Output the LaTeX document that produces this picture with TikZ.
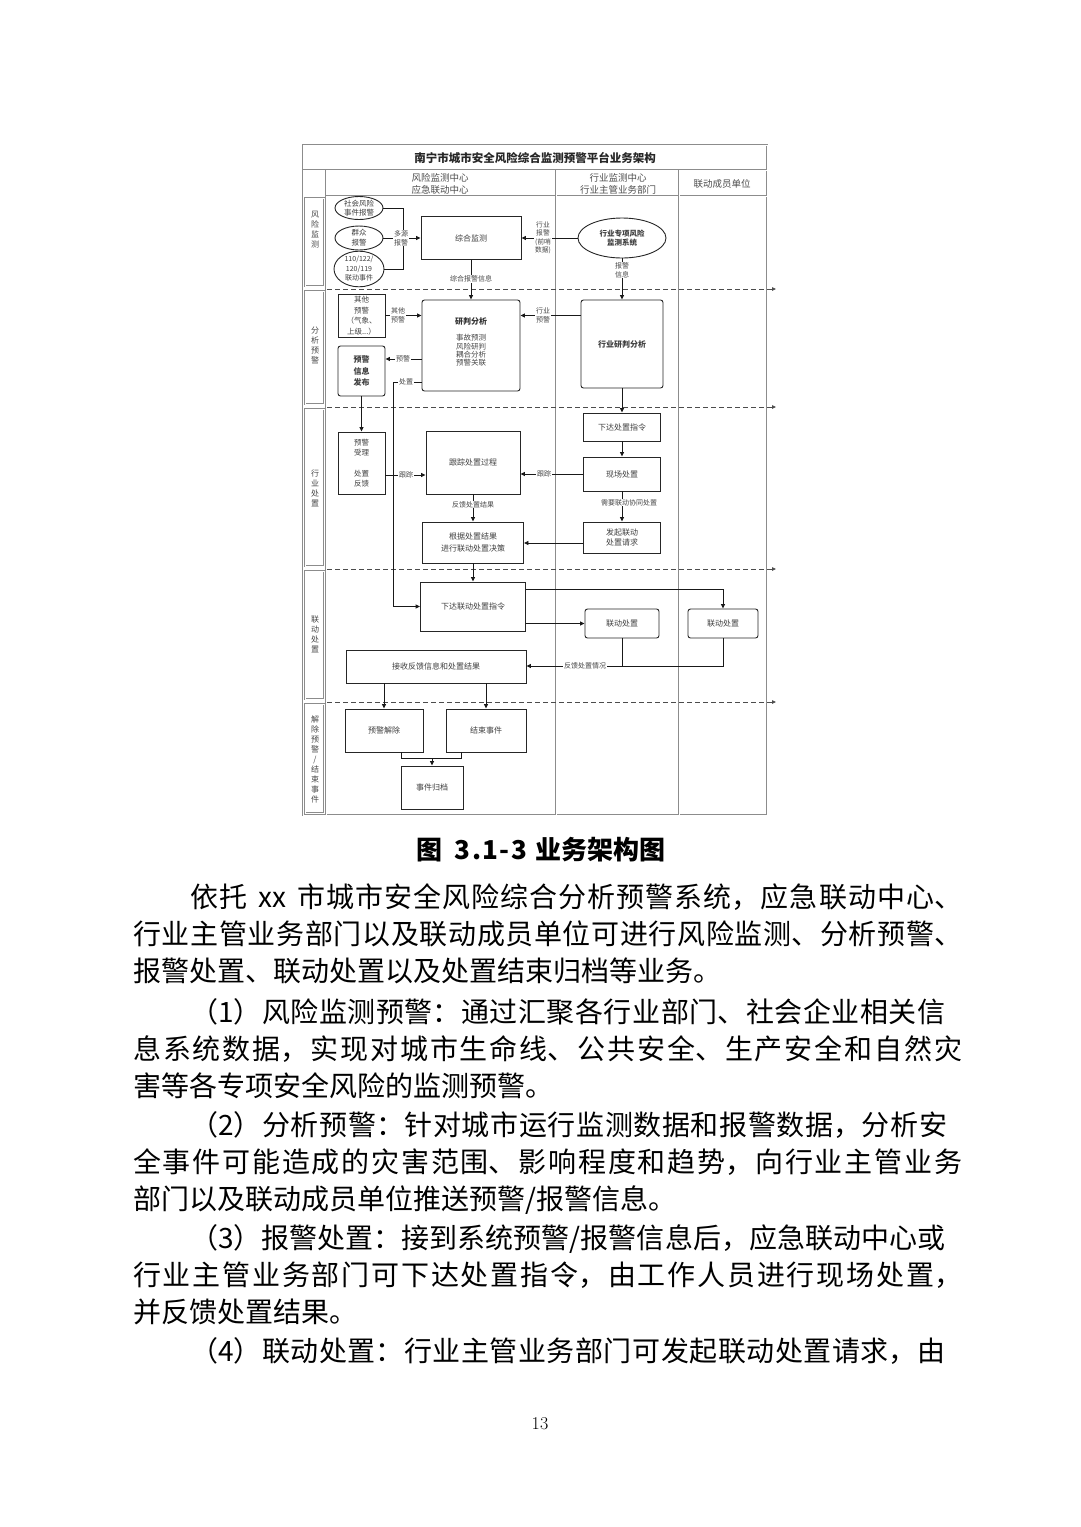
\documentclass[tikz,border=0pt]{standalone}
\usepackage{fontspec}
\newfontfamily\cjk{Noto Sans CJK SC}
\usetikzlibrary{arrows.meta,shapes.geometric}
\XeTeXlinebreaklocale "zh"
\XeTeXlinebreakskip=0pt plus 3pt
\newcommand\dfs[2]{\cjk\fontsize{#1}{#2}\selectfont}
\newcommand\dfb[2]{\cjk\bfseries\fontsize{#1}{#2}\selectfont}
\newcommand\bodyf{\cjk\fontsize{28}{36}\selectfont}
\begin{document}
\begin{tikzpicture}[x=1pt,y=-1pt,
  box/.style={draw=black!85, line width=0.9pt, fill=white, align=center, text=black!75, inner sep=1pt, font=\dfs{8}{10}},
  rbox/.style={box, rounded corners=2.5pt},
  ell/.style={box, ellipse, inner sep=0pt},
  lbl/.style={font=\dfs{7}{8.6}, text=black!72, align=center, fill=white, inner sep=0.6pt},
  arr/.style={draw=black!90, line width=0.9pt, -{Triangle[length=4.5pt,width=4pt]}},
  ln/.style={draw=black!90, line width=0.9pt},
  lane/.style={draw=black!45, line width=0.45pt, double=white, double distance=0.9pt},
  sepl/.style={draw=black!70, line width=0.8pt, dash pattern=on 5pt off 3pt, -{Triangle[length=4pt,width=3.5pt]}},
  rowl/.style={font=\dfs{8}{10}, text=black!72, align=center, inner sep=0pt},
  para/.style={anchor=base west, inner sep=0pt},
  jpara/.style={anchor=base west, inner sep=0pt, text width=#1, align=justify, font=\bodyf}
]
\fill[white] (0,0) rectangle (1080,1527);
\useasboundingbox (0,0) rectangle (1080,1527);

% ---------- frame ----------
\draw[lane] (303,145) rectangle (767,815);
\draw[lane] (303,170) -- (767,170);
\draw[lane] (326,170) -- (326,815);
\draw[lane] (326,196) -- (767,196);
\draw[lane] (556,170) -- (556,815);
\draw[lane] (679,170) -- (679,815);
\draw[lane] (305,198) rectangle (324,286);
\draw[lane] (305,291) rectangle (324,404);
\draw[lane] (305,409) rectangle (324,566);
\draw[lane] (305,571) rectangle (324,699);
\draw[lane] (305,704) rectangle (324,813);
\foreach \yy in {289,407,569,702} \draw[sepl] (327,\yy) -- (776,\yy);

\node[font=\dfb{11.5}{13}, text=black!85] (title) at (535,158) {南宁市城市安全风险综合监测预警平台业务架构};
\node[font=\dfs{9.5}{12}, text=black!70, align=center] (h1) at (440,184) {风险监测中心\\应急联动中心};
\node[font=\dfs{9.5}{12}, text=black!70, align=center] (h2) at (618,184) {行业监测中心\\行业主管业务部门};
\node[font=\dfs{9.5}{12}, text=black!70] (h3) at (722,184) {联动成员单位};

\node[rowl] (r1) at (315,230) {风\\险\\监\\测};
\node[rowl] (r2) at (315,346) {分\\析\\预\\警};
\node[rowl] (r3) at (315,488) {行\\业\\处\\置};
\node[rowl] (r4) at (315,634) {联\\动\\处\\置};
\node[rowl] (r5) at (315,759) {解\\除\\预\\警\\/\\结\\束\\事\\件};

% ---------- nodes ----------
\node[ell, minimum width=48, minimum height=23, font=\dfs{7.5}{8.6}] (eA) at (359,208) {社会风险\\事件报警};
\node[ell, minimum width=48, minimum height=21, font=\dfs{7.5}{10}] (eB) at (359,238) {群众\\报警};
\node[ell, minimum width=50, minimum height=35, font=\dfs{7}{9.5}] (eC) at (359,269) {110/122/\\120/119\\联动事件};
\node[box, minimum width=100, minimum height=43] (zh) at (471,238) {综合监测};
\node[ell, minimum width=88, minimum height=40, font=\dfb{7.5}{9.5}] (eD) at (622,238) {行业专项风险\\监测系统};

\node[box, minimum width=47, minimum height=43, font=\dfs{7.5}{10.5}] (qt) at (361.5,315.5) {其他\\预警\\（气象、\\上级...）};
\node[rbox, minimum width=98, minimum height=91] (yp) at (471,345.5) {};
\node[font=\dfb{8}{10}, text=black!80] (yp1) at (471,321) {研判分析};
\node[font=\dfs{7.5}{8.4}, text=black!72, align=center] (yp2) at (471,350.5) {事故预测\\风险研判\\耦合分析\\预警关联};
\node[rbox, minimum width=47, minimum height=50, font=\dfb{8}{11.5}] (fb) at (361.5,371) {预警\\信息\\发布};
\node[rbox, minimum width=82, minimum height=88, font=\dfb{8}{10}] (hy) at (622,344) {行业研判分析};

\node[box, minimum width=47, minimum height=62, font=\dfs{7.5}{10}] (sl) at (361.5,463) {预警\\受理\\[11pt]处置\\反馈};
\node[box, minimum width=94, minimum height=63] (gz) at (473,462.5) {跟踪处置过程};
\node[box, minimum width=101, minimum height=41, font=\dfs{8}{12.5}] (gj) at (473,542.5) {根据处置结果\\进行联动处置决策};
\node[box, minimum width=77, minimum height=28] (xd) at (622,427) {下达处置指令};
\node[box, minimum width=77, minimum height=34] (xc) at (622,474) {现场处置};
\node[box, minimum width=77, minimum height=31, font=\dfs{8}{10}] (fq) at (622,537.5) {发起联动\\处置请求};

\node[box, minimum width=105, minimum height=49] (xl) at (473,606.5) {下达联动处置指令};
\node[rbox, minimum width=74, minimum height=29] (ld1) at (622,623.5) {联动处置};
\node[rbox, minimum width=70, minimum height=29] (ld2) at (723,623.5) {联动处置};
\node[box, minimum width=180, minimum height=33] (js) at (436,666.5) {接收反馈信息和处置结果};

\node[box, minimum width=78, minimum height=43] (yj) at (384,730.5) {预警解除};
\node[box, minimum width=80, minimum height=43] (jsj) at (486,730.5) {结束事件};
\node[box, minimum width=62, minimum height=43] (gd) at (432,787.5) {事件归档};

% ---------- helper coordinates ----------
\coordinate (jx) at (403,238);
\coordinate (y316) at (0,315.5);
\coordinate (y359) at (0,359);
\coordinate (cz1) at (393,382);
\coordinate (y475) at (0,475);
\coordinate (y543) at (0,543);
\coordinate (t589) at (723,589);
\coordinate (f666) at (723,666);
\coordinate (m1) at (401,758);
\coordinate (m2) at (461,758);
\coordinate (m0) at (432,758);

% ---------- connectors ----------
\draw[ln] (eA.east) -| (jx);
\draw[ln] (eC.east) -| (jx);
\draw[arr] (eB.east) -- (zh.west);
\draw[arr] (eD.west) -- (zh.east);
\draw[arr] (zh.south) -- (yp.north);
\draw[arr] (eD.south) -- (hy.north);

\draw[arr] (qt.east |- y316) -- (yp.west |- y316);
\draw[arr] (hy.west |- y316) -- (yp.east |- y316);
\draw[arr] (yp.west |- y359) -- (fb.east |- y359);
\draw[arr] (yp.west |- cz1) -- (cz1) -- (cz1 |- xl.west) -- (xl.west);
\draw[arr] (hy.south) -- (xd.north);

\draw[arr] (fb.south) -- (sl.north);
\draw[arr] (sl.east |- y475) -- (gz.west |- y475);
\draw[arr] (xc.west) -- (gz.east |- xc.west);
\draw[arr] (gz.south) -- (gj.north);
\draw[arr] (xd.south) -- (xc.north);
\draw[arr] (xc.south) -- (fq.north);
\draw[arr] (fq.west |- y543) -- (gj.east |- y543);

\draw[arr] (gj.south) -- (xl.north);
\draw[arr] (xl.east |- t589) -- (t589) -- (ld2.north);
\draw[arr] (xl.east |- ld1.west) -- (ld1.west);
\draw[ln] (ld1.south) -- (ld1.south |- f666);
\draw[arr] (ld2.south) -- (f666) -- (js.east |- f666);
\draw[arr] (js.south -| yj.north) -- (yj.north);
\draw[arr] (js.south -| jsj.north) -- (jsj.north);

\draw[ln] (yj.south -| m1) -- (m1) -- (m2) -- (jsj.south -| m2);
\draw[arr] (m0) -- (gd.north);

% ---------- connector labels ----------
\node[lbl, font=\dfs{7}{9}] (l1) at (401,238) {多源\\报警};
\node[lbl, font=\dfs{6.8}{8.5}] (l2) at (543,238) {行业\\报警\\(前哨\\数据)};
\node[lbl, font=\dfs{7}{9}] (l3) at (622,270) {报警\\信息};
\node[lbl] (l4) at (471,279) {综合报警信息};
\node[lbl, font=\dfs{7}{8.5}] (l5) at (398,315.5) {其他\\预警};
\node[lbl, font=\dfs{7}{8.5}] (l6) at (543,315.5) {行业\\预警};
\node[lbl] (l7) at (403,359) {预警};
\node[lbl] (l8) at (406,382) {处置};
\node[lbl] (l9) at (406,475) {跟踪};
\node[lbl] (l10) at (544,474) {跟踪};
\node[lbl] (l11) at (473,504.5) {反馈处置结果};
\node[lbl] (l12) at (629,502.5) {需要联动协同处置};
\node[lbl] (l13) at (585,666) {反馈处置情况};

% ---------- caption and body text ----------
\node[anchor=base, inner sep=0pt] (cap) at (541,859) {\dfb{26}{28}图\hspace{12pt}3\hspace{1.5pt}.\hspace{1.5pt}1\hspace{1.5pt}-\hspace{1.5pt}3\hspace{8pt}业务架构图};

\node[jpara=772pt] (p1) at (190,907) {\parfillskip=0pt 依托\hspace{11pt}xx\hspace{11pt}市城市安全风险综合分析预警系统，应急联动中心、\par};
\node[jpara=829pt] (p2) at (133,944) {\parfillskip=0pt 行业主管业务部门以及联动成员单位可进行风险监测、分析预警、\par};
\node[para] (p3) at (133,981) {\bodyf 报警处置、联动处置以及处置结束归档等业务。};
\node[jpara=755pt] (p4) at (190,1022) {\parfillskip=0pt （1）风险监测预警：通过汇聚各行业部门、社会企业相关信\par};
\node[jpara=829pt] (p5) at (133,1059) {\parfillskip=0pt 息系统数据，实现对城市生命线、公共安全、生产安全和自然灾\par};
\node[para] (p6) at (133,1096) {\bodyf 害等各专项安全风险的监测预警。};
\node[jpara=757pt] (p7) at (190,1135) {\parfillskip=0pt （2）分析预警：针对城市运行监测数据和报警数据，分析安\par};
\node[jpara=829pt] (p8) at (133,1172) {\parfillskip=0pt 全事件可能造成的灾害范围、影响程度和趋势，向行业主管业务\par};
\node[para] (p9) at (133,1209) {\bodyf 部门以及联动成员单位推送预警/报警信息。};
\node[jpara=755pt] (p10) at (190,1248) {\parfillskip=0pt （3）报警处置：接到系统预警/报警信息后，应急联动中心或\par};
\node[jpara=829pt] (p11) at (133,1285) {\parfillskip=0pt 行业主管业务部门可下达处置指令，由工作人员进行现场处置，\par};
\node[para] (p12) at (133,1322) {\bodyf 并反馈处置结果。};
\node[jpara=755pt] (p13) at (190,1361) {\parfillskip=0pt （4）联动处置：行业主管业务部门可发起联动处置请求，由\par};

\node[anchor=base, inner sep=0pt] (pg) at (540,1429) {\fontsize{18}{20}\selectfont 13};
\end{tikzpicture}
\end{document}
